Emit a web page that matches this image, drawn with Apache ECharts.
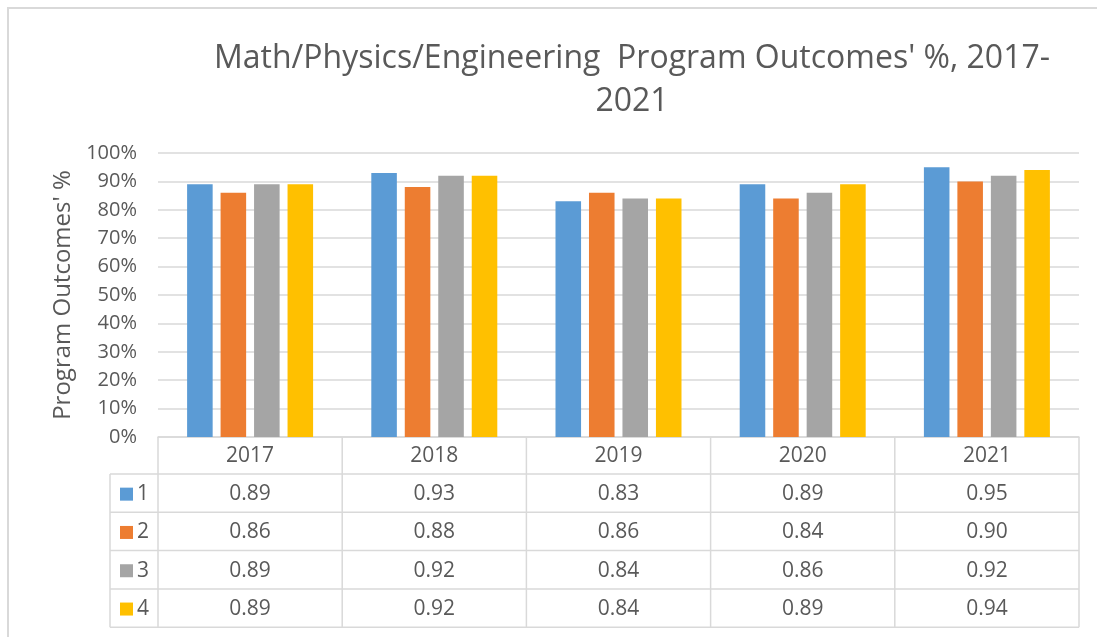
<!DOCTYPE html>
<html>
<head>
<meta charset="utf-8">
<script src="https://cdn.jsdelivr.net/npm/echarts@6/dist/echarts.min.js"></script>
<style>
html,body{margin:0;padding:0;background:#fff;}
#chart{width:1097px;height:637px;}
</style>
</head>
<body>
<div id="chart"></div>
<script>
const categories = ['2017', '2018', '2019', '2020', '2021'];
const seriesNames = ['1', '2', '3', '4'];
const series1 = [0.89, 0.93, 0.83, 0.89, 0.95];
const series2 = [0.86, 0.88, 0.86, 0.84, 0.90];
const series3 = [0.89, 0.92, 0.84, 0.86, 0.92];
const series4 = [0.89, 0.92, 0.84, 0.89, 0.94];
const colors = ['#5B9BD5', '#ED7D31', '#A5A5A5', '#FFC000'];
const titleText = "Math/Physics/Engineering  Program Outcomes' %, 2017-\n2021";
const yAxisName = "Program Outcomes' %";

const allSeries = [series1, series2, series3, series4];
const FONT = "'Open Sans', 'Noto Sans', sans-serif";
const W = 1097, H = 637;
const gridLeft = 158, gridRight = 1079, gridTop = 153, gridBottom = 437;
const tableLeft = 110;
const headerH = 37;
const rowH = 38.3;
const lineColor = '#D9D9D9';
const textColor = '#595959';
const tableFont = 21;

const chart = echarts.init(document.getElementById('chart'), null, {renderer: 'canvas'});

const graphics = [];
graphics.push({type: 'rect', shape: {x: 8, y: 8, width: 1300, height: 800},
  style: {fill: 'none', stroke: lineColor, lineWidth: 2}, silent: true});

const colW = (gridRight - gridLeft) / categories.length;
const tableBottom = gridBottom + headerH + rowH * seriesNames.length;
for (let i = 0; i <= categories.length; i++) {
  const x = gridLeft + i * colW;
  graphics.push({type: 'line', shape: {x1: x, y1: gridBottom, x2: x, y2: tableBottom},
    style: {stroke: lineColor, lineWidth: 1.5}, silent: true});
}
graphics.push({type: 'line', shape: {x1: tableLeft, y1: gridBottom + headerH, x2: tableLeft, y2: tableBottom},
  style: {stroke: lineColor, lineWidth: 1.5}, silent: true});
for (let r = 0; r <= seriesNames.length; r++) {
  const y = gridBottom + headerH + r * rowH;
  graphics.push({type: 'line', shape: {x1: tableLeft, y1: y, x2: gridRight, y2: y},
    style: {stroke: lineColor, lineWidth: 1.5}, silent: true});
}
categories.forEach((c, i) => {
  graphics.push({type: 'text', silent: true, style: {
    text: c, x: gridLeft + (i + 0.5) * colW, y: gridBottom + headerH / 2 + 1,
    align: 'center', verticalAlign: 'middle', fill: textColor, fontSize: tableFont, fontFamily: FONT}});
});
seriesNames.forEach((n, r) => {
  const cy = gridBottom + headerH + (r + 0.5) * rowH + 1;
  graphics.push({type: 'rect', silent: true, shape: {x: 120, y: cy - 6.5, width: 13, height: 13},
    style: {fill: colors[r]}});
  graphics.push({type: 'text', silent: true, style: {
    text: n, x: 137, y: cy, align: 'left', verticalAlign: 'middle',
    fill: textColor, fontSize: tableFont, fontFamily: FONT}});
  allSeries[r].forEach((v, i) => {
    graphics.push({type: 'text', silent: true, style: {
      text: v.toFixed(2), x: gridLeft + (i + 0.5) * colW, y: cy,
      align: 'center', verticalAlign: 'middle', fill: textColor, fontSize: tableFont, fontFamily: FONT}});
  });
});

const option = {
  backgroundColor: '#fff',
  animation: false,
  color: colors,
  title: {
    text: titleText,
    left: 627, top: 32, textAlign: 'center',
    textStyle: {fontFamily: FONT, fontSize: 32, fontWeight: 'normal', color: textColor, lineHeight: 43}
  },
  grid: {left: gridLeft, right: W - gridRight, top: gridTop, bottom: H - gridBottom, containLabel: false},
  xAxis: {
    type: 'category', data: categories,
    axisLine: {show: true, lineStyle: {color: lineColor, width: 1.5}},
    axisTick: {show: false},
    axisLabel: {show: false}
  },
  yAxis: {
    type: 'value', min: 0, max: 1, interval: 0.1,
    name: yAxisName, nameLocation: 'middle', nameGap: 82,
    nameTextStyle: {fontFamily: FONT, fontSize: 24, color: textColor},
    axisLine: {show: false}, axisTick: {show: false},
    axisLabel: {formatter: v => Math.round(v * 100) + '%', color: textColor, fontSize: 20, fontFamily: FONT, margin: 21},
    splitLine: {lineStyle: {color: lineColor, width: 1.5}}
  },
  series: seriesNames.map((n, i) => ({
    name: n, type: 'bar', data: allSeries[i],
    barGap: '31%', barCategoryGap: '31.6%',
    itemStyle: {color: colors[i]}
  })),
  graphic: graphics
};
chart.setOption(option);
</script>
</body>
</html>
